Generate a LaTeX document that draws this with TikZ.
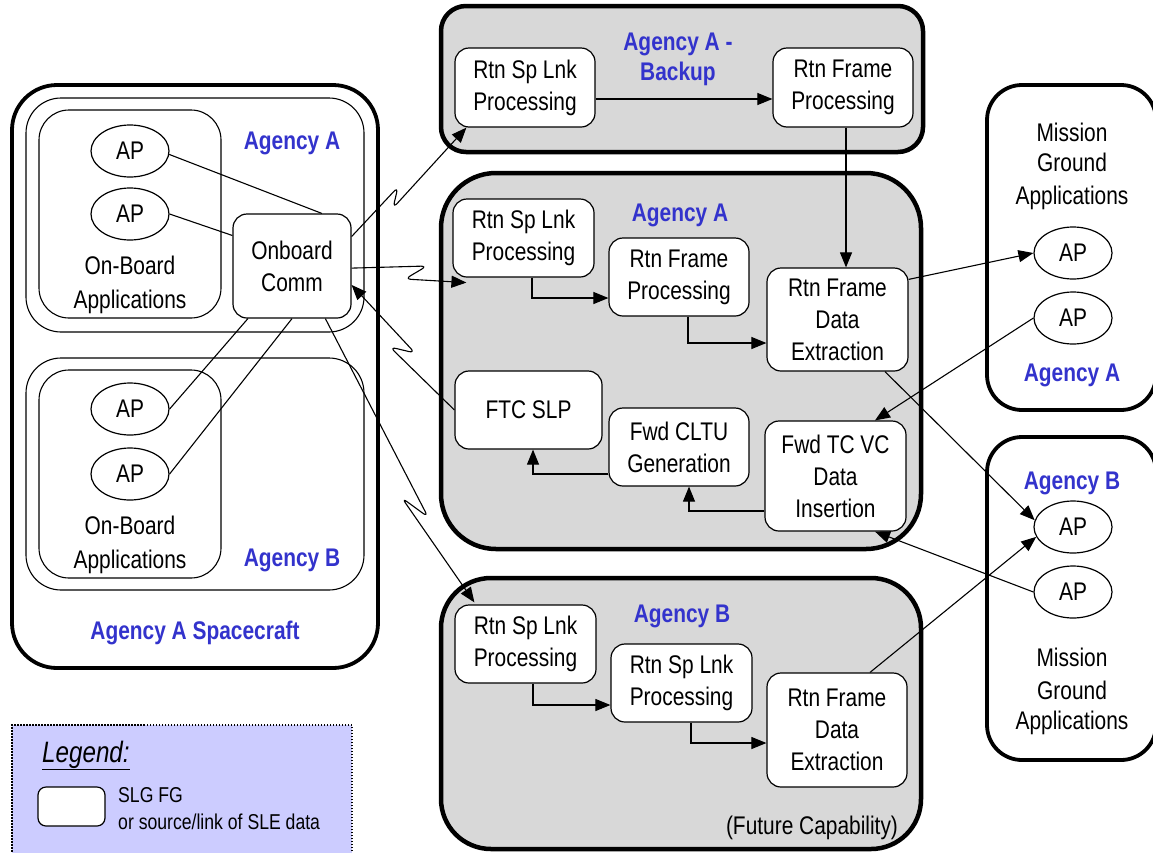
\documentclass[tikz,border=0pt]{standalone}
\usepackage{fontspec}
\setmainfont{Liberation Sans}[FakeStretch=0.82]
\usetikzlibrary{arrows.meta,calc,shapes.geometric}
\definecolor{agblue}{RGB}{51,51,204}
\definecolor{shadegray}{RGB}{216,216,216}
\definecolor{legfill}{RGB}{204,204,255}
\begin{document}
\begin{tikzpicture}[x=1pt,y=-1pt,
  txt/.style={font=\fontsize{25.5}{32}\selectfont},
  proc/.style={draw, line width=1.2pt, rounded corners=14pt, fill=white, align=center, inner sep=0pt, txt},
  ap/.style={draw, ellipse, line width=1.2pt, fill=white, minimum width=78pt, minimum height=52pt, inner sep=0pt, txt},
  bigframe/.style={draw, line width=4.5pt, fill=shadegray, inner sep=0pt},
  wframe/.style={draw, line width=3.8pt, fill=white, inner sep=0pt},
  thinframe/.style={draw, line width=1.1pt, inner sep=0pt},
  blbl/.style={font=\bfseries\fontsize{25.5}{32}\selectfont, text=agblue, anchor=base, inner sep=0pt},
  lbl/.style={txt, anchor=base, inner sep=0pt},
  conn/.style={line width=1.1pt},
  arr/.style={line width=1.1pt, -{Triangle[length=15pt,width=12pt]}},
  zig/.style={arr, rounded corners=6pt},
]
\fill[white] (0,0) rectangle (1153,852);
\useasboundingbox (0,0) rectangle (1153,852);

% ---------- spacecraft ----------
\node[wframe, rounded corners=45pt, minimum width=366pt, minimum height=583pt] (sc) at (195,376.5) {};
\node[thinframe, rounded corners=35pt, minimum width=338pt, minimum height=234pt] (scA) at (195,215) {};
\node[thinframe, rounded corners=30pt, minimum width=182pt, minimum height=208pt] (obaA) at (130,214) {};
\node[thinframe, rounded corners=35pt, minimum width=338pt, minimum height=232pt] (scB) at (195,474) {};
\node[thinframe, rounded corners=30pt, minimum width=182pt, minimum height=208pt] (obaB) at (130,474) {};

\node[ap] (AP1) at (130,151) {AP};
\node[ap] (AP2) at (130,214) {AP};
\node[ap] (AP3) at (130,409) {AP};
\node[ap] (AP4) at (130,474) {AP};
\node[lbl] (obaA1) at (130,274) {On-Board};
\node[lbl] (obaA2) at (130,308) {Applications};
\node[lbl] (obaB1) at (130,534) {On-Board};
\node[lbl] (obaB2) at (130,568) {Applications};
\node[blbl] (scAl) at (292,149) {Agency A};
\node[blbl] (scBl) at (292,566) {Agency B};
\node[blbl] (scl) at (195,639) {Agency A Spacecraft};
\node[proc, minimum width=118pt, minimum height=104pt] (obc) at (292,266) {Onboard\\Comm};

% ---------- ground frames ----------
\node[bigframe, rounded corners=25pt, minimum width=482pt, minimum height=146pt] (bak) at (682,79) {};
\node[bigframe, rounded corners=55pt, minimum width=480pt, minimum height=376pt] (mainA) at (681,361) {};
\node[bigframe, rounded corners=50pt, minimum width=480pt, minimum height=271pt] (mainB) at (681,713.5) {};
\node[wframe, rounded corners=35pt, minimum width=169pt, minimum height=325pt] (gA) at (1071.5,247.5) {};
\node[wframe, rounded corners=35pt, minimum width=169pt, minimum height=323pt] (gB) at (1071.5,598.5) {};

\node[blbl] (bakl1) at (678,50) {Agency A -};
\node[blbl] (bakl2) at (678,80) {Backup};
\node[blbl] (mainAl) at (680,221) {Agency A};
\node[blbl] (mainBl) at (682,622) {Agency B};
\node[lbl] (fut) at (812,834) {(Future Capability)};

\node[proc, minimum width=140pt, minimum height=79pt] (rslT) at (525,87.5) {Rtn Sp Lnk\\Processing};
\node[proc, minimum width=140pt, minimum height=79pt] (rfpT) at (843,87.5) {Rtn Frame\\Processing};
\node[proc, minimum width=141pt, minimum height=78pt] (rslA) at (523.5,238) {Rtn Sp Lnk\\Processing};
\node[proc, minimum width=140pt, minimum height=78pt] (rfpA) at (679,277) {Rtn Frame\\Processing};
\node[proc, minimum width=141pt, minimum height=103pt] (rfdeA) at (837.5,319.5) {Rtn Frame\\Data\\Extraction};
\node[proc, minimum width=147pt, minimum height=78pt] (ftc) at (528.5,410) {FTC SLP};
\node[proc, minimum width=140pt, minimum height=78pt] (cltu) at (679,447) {Fwd CLTU\\Generation};
\node[proc, minimum width=141pt, minimum height=110pt] (tcvc) at (835.5,476) {Fwd TC VC\\Data\\Insertion};
\node[proc, minimum width=141pt, minimum height=78pt] (rslB1) at (525.5,644) {Rtn Sp Lnk\\Processing};
\node[proc, minimum width=141pt, minimum height=78pt] (rslB2) at (681.5,683) {Rtn Sp Lnk\\Processing};
\node[proc, minimum width=140pt, minimum height=114pt] (rfdeB) at (837,730) {Rtn Frame\\Data\\Extraction};

\node[lbl] (gAt1) at (1072,141) {Mission};
\node[lbl] (gAt2) at (1072,171) {Ground};
\node[lbl] (gAt3) at (1072,204) {Applications};
\node[blbl] (gAl) at (1072,381) {Agency A};
\node[ap] (gA1) at (1073,253) {AP};
\node[ap] (gA2) at (1073,318) {AP};
\node[blbl] (gBl) at (1072,489) {Agency B};
\node[ap] (gB1) at (1073,527) {AP};
\node[ap] (gB2) at (1073,592) {AP};
\node[lbl] (gBt1) at (1072,666) {Mission};
\node[lbl] (gBt2) at (1072,699) {Ground};
\node[lbl] (gBt3) at (1072,729) {Applications};

% ---------- legend ----------
\node[draw, line width=1.6pt, dash pattern=on 1.5pt off 1.5pt, fill=legfill, minimum width=340pt, minimum height=140pt, inner sep=0pt] (leg) at (182,795) {};
\node[anchor=base west, inner sep=0pt, font=\itshape\fontsize{29.5}{34}\selectfont] (legt) at (42,762) {\underline{Legend:}};
\node[draw, line width=1.2pt, rounded corners=8pt, fill=white, minimum width=67pt, minimum height=39pt, inner sep=0pt] (legbox) at (71.5,806.5) {};
\node[anchor=base west, inner sep=0pt, font=\fontsize{21.5}{26}\selectfont] (leg1) at (118,802) {SLG FG};
\node[anchor=base west, inner sep=0pt, font=\fontsize{21.5}{26}\selectfont] (leg2) at (118,829) {or source/link of SLE data};

% ---------- connectors ----------
\draw[conn] (AP1.-5) -- ($(obc.north west)!0.75!(obc.north east)$);
\draw[conn] (AP2.east) -- ($(obc.north west)!0.21!(obc.south west)$);
\draw[conn] (AP3.east) -- ($(obc.south west)!0.13!(obc.south east)$);
\draw[conn] (AP4.east) -- (obc.south);

\draw[zig] ($(obc.north east)!0.22!(obc.south east)$) -- (398,187) -- (393,208) -- ($(rslT.south west)+(12,0)$);
\draw[zig] ($(obc.north east)!0.52!(obc.south east)$) -- (427,266) -- (405,279) -- ($(rslA.south west)+(14,5)$);
\draw[zig] (ftc.west) -- (390,347) -- (415,353) -- ($(obc.north east)!0.68!(obc.south east)$);
\draw[zig] ($(obc.south west)!0.78!(obc.south east)$) -- (428,517) -- (402,498) -- ($(rslB1.north west)+(20,-2)$);

\draw[arr] ([yshift=-11.5pt]rslT.east) -- ([yshift=-11.5pt]rfpT.west);
\draw[arr] ([xshift=3pt]rfpT.south) -- ([xshift=8.5pt]rfdeA.north);
\draw[arr] ([xshift=8.5pt]rslA.south) |- ([yshift=-21pt]rfpA.west);
\draw[arr] ([xshift=9pt]rfpA.south) |- ([yshift=-23.5pt]rfdeA.west);
\draw[arr] ([yshift=-27pt]cltu.west) -| ([xshift=4.5pt]ftc.south);
\draw[arr] ([yshift=-35pt]tcvc.west) -| ([xshift=10pt]cltu.south);
\draw[arr] ([xshift=7.5pt]rslB1.south) |- ([yshift=-22pt]rslB2.west);
\draw[arr] ([xshift=9.5pt]rslB2.south) |- ([yshift=-13pt]rfdeB.west);

\draw[arr] ($(rfdeA.north east)+(0,12)$) -- (gA1.west);
\draw[arr] (gA2.west) -- ([xshift=39.5pt]tcvc.north);
\draw[arr] ([xshift=47.5pt]rfdeA.south) -- (gB1.170);
\draw[arr] (gB2.west) -- ([xshift=39.5pt]tcvc.south);
\draw[arr] ([xshift=33pt]rfdeB.north) -- (gB1.195);
\end{tikzpicture}
\end{document}
